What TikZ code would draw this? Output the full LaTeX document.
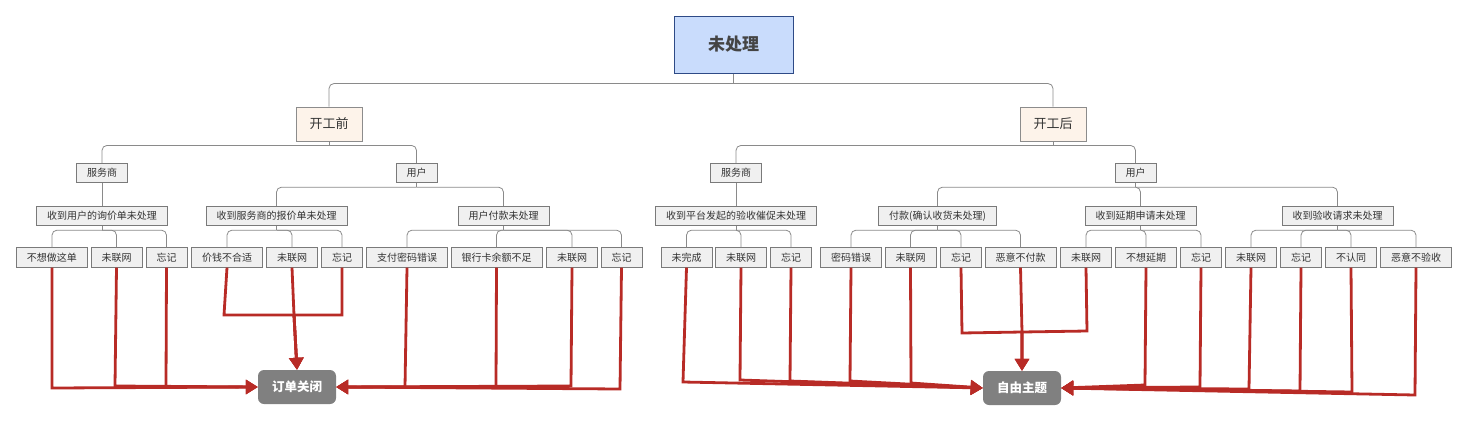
\documentclass[tikz,border=0pt]{standalone}
\usepackage{fontspec}
\setmainfont{Noto Sans CJK SC}
\usetikzlibrary{arrows.meta}
\definecolor{txt}{HTML}{333333}
\definecolor{roottxt}{HTML}{444444}
\definecolor{boxfill}{HTML}{F0F0F0}
\definecolor{boxborder}{HTML}{7A7A7A}
\definecolor{phasefill}{HTML}{FDF3EA}
\definecolor{phaseborder}{HTML}{8C8C8C}
\definecolor{rootfill}{HTML}{C9DCFC}
\definecolor{rootborder}{HTML}{2E4A86}
\definecolor{endfill}{HTML}{808080}
\definecolor{treegray}{HTML}{8A8A8A}
\definecolor{flowred}{HTML}{B82B26}
\tikzset{
 leafbox/.style={draw=boxborder, fill=boxfill, line width=0.8pt, font=\fontsize{10}{12}\selectfont, text=txt, inner xsep=10.5pt, inner ysep=0pt, minimum height=19.5pt},
 phasebox/.style={draw=phaseborder, fill=phasefill, line width=0.8pt, font=\fontsize{13}{15}\selectfont, text=txt, minimum width=66pt, minimum height=34pt, inner sep=0pt},
 rootbox/.style={draw=rootborder, fill=rootfill, line width=1pt, font=\fontsize{17}{20}\selectfont\bfseries, text=roottxt, minimum width=119pt, minimum height=57pt},
 endbox/.style={fill=endfill, rounded corners=6pt, text=white, font=\fontsize{12.5}{15}\selectfont\bfseries, minimum width=78pt, minimum height=34pt, inner sep=0pt},
 treeline/.style={draw=treegray, line width=0.8pt, rounded corners=5pt},
 flowline/.style={draw=flowred, line width=2.8pt, -{Triangle[length=12pt,width=14pt]}},
}
\begin{document}
\begin{tikzpicture}[x=1pt,y=-1pt]
\useasboundingbox (0,0) rectangle (1468,421);
% nodes
\node[rootbox] (root) at (733.5,44.5) {未处理};
\node[phasebox] (pre) at (329,124) {开工前};
\node[phasebox] (post) at (1053,124) {开工后};
\node[leafbox] (spL) at (102,173) {服务商};
\node[leafbox] (usL) at (416.5,173) {用户};
\node[leafbox] (spR) at (736,173) {服务商};
\node[leafbox] (usR) at (1135.5,173) {用户};
\node[leafbox] (L1) at (102,216) {收到用户的询价单未处理};
\node[leafbox] (L2) at (276.5,216) {收到服务商的报价单未处理};
\node[leafbox] (L3) at (503.5,216) {用户付款未处理};
\node[leafbox] (R1) at (736,216) {收到平台发起的验收催促未处理};
\node[leafbox] (R2) at (937.5,216) {付款(确认收货未处理)};
\node[leafbox] (R3) at (1140.5,216) {收到延期申请未处理};
\node[leafbox] (R4) at (1337.5,216) {收到验收请求未处理};
% leaves
\node[leafbox] (a1) at (52,257.5) {不想做这单};
\node[leafbox] (a2) at (116.5,257.5) {未联网};
\node[leafbox] (a3) at (166.5,257.5) {忘记};
\node[leafbox] (b1) at (227,257.5) {价钱不合适};
\node[leafbox] (b2) at (292,257.5) {未联网};
\node[leafbox] (b3) at (342,257.5) {忘记};
\node[leafbox] (c1) at (407,257.5) {支付密码错误};
\node[leafbox] (c2) at (496.5,257.5) {银行卡余额不足};
\node[leafbox] (c3) at (572,257.5) {未联网};
\node[leafbox] (c4) at (621.5,257.5) {忘记};
\node[leafbox] (d1) at (686.5,257.5) {未完成};
\node[leafbox] (d2) at (741,257.5) {未联网};
\node[leafbox] (d3) at (791,257.5) {忘记};
\node[leafbox] (e1) at (851,257.5) {密码错误};
\node[leafbox] (e2) at (910.5,257.5) {未联网};
\node[leafbox] (e3) at (961,257.5) {忘记};
\node[leafbox] (e4) at (1020.5,257.5) {恶意不付款};
\node[leafbox] (f1) at (1086,257.5) {未联网};
\node[leafbox] (f2) at (1146,257.5) {不想延期};
\node[leafbox] (f3) at (1201,257.5) {忘记};
\node[leafbox] (g1) at (1251,257.5) {未联网};
\node[leafbox] (g2) at (1301,257.5) {忘记};
\node[leafbox] (g3) at (1351,257.5) {不认同};
\node[leafbox] (g4) at (1416,257.5) {恶意不验收};
\node[endbox] (close) at (297,387) {订单关闭};
\node[endbox] (free) at (1022,388) {自由主题};
% tree connectors
\draw[treeline] (root.south) -- ++(0,10) coordinate (rb);
\draw[treeline] (rb) -| (pre.north);
\draw[treeline] (rb) -| (post.north);
\draw[treeline] (pre.south) -- ++(0,4) coordinate (preb);
\draw[treeline] (preb) -| (spL.north);
\draw[treeline] (preb) -| (usL.north);
\draw[treeline] (post.south) -- ++(0,4) coordinate (postb);
\draw[treeline] (postb) -| (spR.north);
\draw[treeline] (postb) -| (usR.north);
\draw[treeline] (spL.south) -- (L1.north);
\draw[treeline] (spR.south) -- (R1.north);
\draw[treeline] (usL.south) -- ++(0,4) coordinate (usLb);
\draw[treeline] (usLb) -| (L2.north);
\draw[treeline] (usLb) -| (L3.north);
\draw[treeline] (usR.south) -- ++(0,4) coordinate (usRb);
\draw[treeline] (usRb) -| (R2.north);
\draw[treeline] (usRb) -| (R3.north);
\draw[treeline] (usRb) -| (R4.north);
\foreach \p/\kids in {L1/{a1,a2,a3}, L2/{b1,b2,b3}, L3/{c1,c2,c3,c4}, R1/{d1,d2,d3}, R2/{e1,e2,e3,e4}, R3/{f1,f2,f3}, R4/{g1,g2,g3,g4}}{
  \draw[treeline] (\p.south) -- ++(0,4) coordinate (\p b);
  \foreach \k in \kids { \draw[treeline] (\p b) -| (\k.north); }
}
% red flow connectors to 订单关闭
\coordinate (jb) at (294,315);
\draw[flowline] (a1.south) -- (52,388) -- (close.west);
\draw[flowline] (a2.south) -- (115,386) -- (close.west);
\draw[flowline] (a3.south) -- (166,387) -- (close.west);
\draw[flowline] (b1.south) -- (224,315) -- (jb) -- (close.north);
\draw[flowline] (b3.south) -- (342,315) -- (jb) -- (close.north);
\draw[flowline] (b2.south) -- (jb) -- (close.north);
\draw[flowline] (c1.south) -- (405,387) -- (close.east);
\draw[flowline] (c2.south) -- (496,387) -- (close.east);
\draw[flowline] (c3.south) -- (571,386) -- (close.east);
\draw[flowline] (c4.south) -- (620,389) -- (close.east);
% red flow connectors to 自由主题
\coordinate (je) at (1022,332);
\draw[flowline] (d1.south) -- (683,382) -- (free.west);
\draw[flowline] (d2.south) -- (740,380) -- (free.west);
\draw[flowline] (d3.south) -- (790,381) -- (free.west);
\draw[flowline] (e1.south) -- (850,381) -- (free.west);
\draw[flowline] (e2.south) -- (911,383) -- (free.west);
\draw[flowline] (e3.south) -- (962,333) -- (je) -- (free.north);
\draw[flowline] (f1.south) -- (1087,331) -- (je) -- (free.north);
\draw[flowline] (e4.south) -- (je) -- (free.north);
\draw[flowline] (f2.south) -- (1145,385) -- (free.east);
\draw[flowline] (f3.south) -- (1200,387) -- (free.east);
\draw[flowline] (g1.south) -- (1249,389) -- (free.east);
\draw[flowline] (g2.south) -- (1300,391) -- (free.east);
\draw[flowline] (g3.south) -- (1352,392) -- (free.east);
\draw[flowline] (g4.south) -- (1415,395) -- (free.east);
\end{tikzpicture}
\end{document}
